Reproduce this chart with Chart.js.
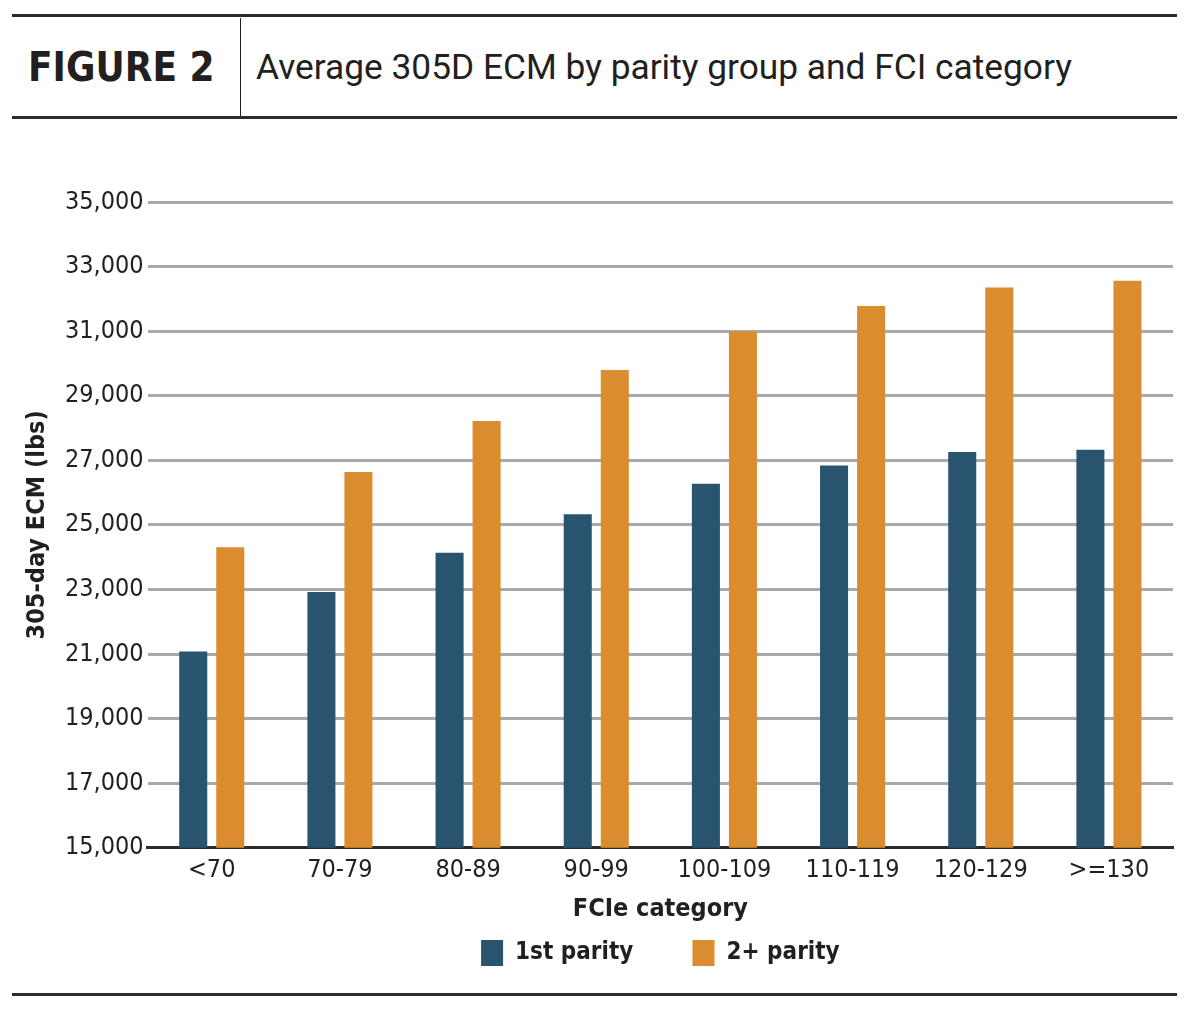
<!DOCTYPE html>
<html>
<head>
<meta charset="utf-8">
<script src="https://cdn.jsdelivr.net/npm/chart.js@4/dist/chart.umd.min.js"></script>
<style>
  body { margin: 0; background: #fff; width: 1200px; height: 1012px; position: relative; overflow: hidden; }
  .rule { position: absolute; left: 12px; width: 1165px; height: 3px; background: #2b2b2b; }
  #head { position: absolute; left: 12px; top: 18px; width: 1165px; height: 98px; }
  #fig { position: absolute; left: 16px; top: 0; height: 98px; line-height: 98px; font-family: "DejaVu Sans Condensed", sans-serif; font-weight: bold; font-size: 40px; letter-spacing: 0px; color: #231f20; }
  #divider { position: absolute; left: 228px; top: 0; width: 1px; height: 98px; background: #231f20; }
  #sub { position: absolute; left: 244px; top: 0; height: 98px; line-height: 98px; font-family: Roboto, sans-serif; font-size: 35.3px; color: #231f20; }
  #wrap { position: absolute; left: 0; top: 120px; width: 1200px; height: 870px; }
</style>
</head>
<body>
<div class="rule" style="top:14px"></div>
<div id="head">
  <div id="fig">FIGURE 2</div>
  <div id="divider"></div>
  <div id="sub">Average 305D ECM by parity group and FCI category</div>
</div>
<div class="rule" style="top:116px"></div>
<div id="wrap"><canvas id="myChart"></canvas></div>
<div class="rule" style="top:993px"></div>
<script>
'use strict';

let categories = ['<70', '70-79', '80-89', '90-99', '100-109', '110-119', '120-129', '>=130'];
let firstParity = [21080, 22920, 24140, 25330, 26270, 26840, 27260, 27330];
let laterParity = [24310, 26640, 28220, 29800, 30990, 31780, 32350, 32560];
let seriesNames = ['1st parity', '2+ parity'];
let yTicks = [15000, 17000, 19000, 21000, 23000, 25000, 27000, 29000, 31000, 33000, 35000];

let narrow = '"DejaVu Sans Condensed", sans-serif';
let textColor = '#231f20';

var ctx = document.getElementById('myChart').getContext('2d');
var chart = new Chart(ctx, {
    type: 'bar',
    data: {
        labels: categories,
        datasets: [{
            label: seriesNames[0],
            backgroundColor: '#285470',
            data: firstParity,
        }, {
            label: seriesNames[1],
            backgroundColor: '#db8c2e',
            data: laterParity,
        }]
    },
    options: {
        responsive: true,
        maintainAspectRatio: false,
        animation: false,
        datasets: {
            bar: { categoryPercentage: 0.578, barPercentage: 0.757 }
        },
        layout: { padding: { left: 22, right: 27, top: 82, bottom: 14 } },
        plugins: {
            tooltip: { enabled: false },
            legend: {
                position: 'bottom',
                fullSize: false,
                labels: {
                    boxWidth: 22,
                    boxHeight: 26,
                    padding: 16,
                    color: textColor,
                    font: { family: narrow, size: 24, weight: 'bold' },
                    // widen the gap after the first item
                    generateLabels: function (chart) {
                        let items = Chart.defaults.plugins.legend.labels.generateLabels(chart);
                        items.forEach(function (it, i) {
                            if (i < items.length - 1) it.text = it.text + '\u2003\u2003';
                        });
                        return items;
                    }
                }
            }
        },
        scales: {
            x: {
                grid: { display: false, drawTicks: false },
                border: { color: '#2b2b2b', width: 3 },
                ticks: { color: textColor, padding: 10, font: { family: narrow, size: 25, lineHeight: 1.05 } },
                title: {
                    display: true,
                    text: 'FCIe category',
                    color: textColor,
                    padding: { top: 0, bottom: 0 },
                    font: { family: narrow, size: 25, weight: 'bold' }
                }
            },
            y: {
                min: 15000,
                max: 35000,
                afterBuildTicks: function (scale) {
                    scale.ticks = yTicks.map(function (v) { return { value: v }; });
                },
                border: { display: false },
                grid: {
                    drawTicks: false,
                    lineWidth: 3,
                    color: function (c) { return c.tick && c.tick.value === 15000 ? 'rgba(0,0,0,0)' : '#a7a9ac'; }
                },
                ticks: {
                    color: textColor,
                    padding: 4,
                    font: { family: narrow, size: 25 },
                    callback: function (v) { return Number(v).toLocaleString('en-US'); }
                },
                title: {
                    display: true,
                    text: '305-day ECM (lbs)',
                    color: textColor,
                    padding: { top: 0, bottom: 9 },
                    font: { family: narrow, size: 25, weight: 'bold' }
                }
            }
        }
    }
});
</script>
</body>
</html>
